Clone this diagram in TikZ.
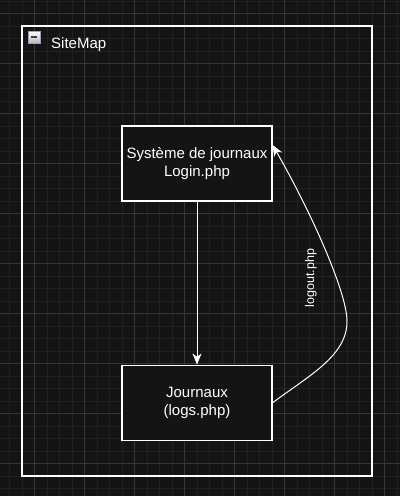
\documentclass[tikz,border=0pt]{standalone}
\usepackage{fontspec}
\setmainfont{Liberation Sans}
\usetikzlibrary{arrows.meta,positioning,calc}
\definecolor{bgdark}{HTML}{141414}
\definecolor{gridminor}{HTML}{212121}
\definecolor{gridmajor}{HTML}{363636}

\begin{document}
\begin{tikzpicture}[
    x=1pt, y=-1pt,
    node distance=163pt and 20pt,
    box/.style={draw=white, line width=1.2pt, fill=bgdark, minimum width=150pt, minimum height=75pt,
      inner sep=0pt, text=white, font=\fontsize{15}{18}\selectfont, align=center},
    lane/.style={draw=white, line width=1.4pt},
    arr/.style={-{Stealth[length=11pt, width=9pt, inset=3pt]}, white, line width=1pt},
    lbl/.style={text=white, font=\fontsize{12.5}{15}\selectfont, inner sep=0pt},
  ]
  \useasboundingbox (0,0) rectangle (400,496);
  % background and grid
  \fill[bgdark] (0,0) rectangle (400,496);
  \foreach \i in {0,...,32} {
    \draw[gridminor, line width=0.6pt] ({9.3+12.5*\i},0) -- ({9.3+12.5*\i},496);
  }
  \foreach \i in {0,...,40} {
    \draw[gridminor, line width=0.6pt] (0,{0.8+12.5*\i}) -- (400,{0.8+12.5*\i});
  }
  \foreach \i in {0,...,7} {
    \draw[gridmajor, line width=0.8pt] ({34.3+50*\i},0) -- ({34.3+50*\i},496);
  }
  \foreach \i in {0,...,9} {
    \draw[gridmajor, line width=0.8pt] (0,{13.3+50*\i}) -- (400,{13.3+50*\i});
  }

  % SiteMap container
  \node[lane, minimum width=350pt, minimum height=450pt, inner sep=0pt] (sitemap) at (197,251) {};
  \draw[white, line width=1.4pt] (sitemap.north west) -- ++(70,0);
  \node[draw=gray!70!blue!60, top color=white, bottom color=gray!55, minimum size=12pt, inner sep=0pt] (toggle) at (34,37) {};
  \draw[black!75, line width=1.4pt] ([xshift=-3pt]toggle.center) -- ([xshift=3pt]toggle.center);
  \node[text=white, font=\fontsize{15}{18}\selectfont, anchor=west, inner sep=0pt] (title) at (51,45) {SiteMap};

  % pages
  \node[box] (login) at (197,163.5) {Système de journaux\\Login.php};
  \node[box, below=of login] (logs) {Journaux\\(logs.php)};

  % links
  \draw[arr] (login) -- (logs);
  \coordinate (logintip) at ([yshift=18.5pt]login.east);
  \draw[arr] (logs.east) .. controls (310,375) and (348,355) .. (347,320)
    .. controls (346,290) and (310,210) .. (logintip);
  \node[lbl, rotate=90] (logout) at (311,278) {logout.php};
\end{tikzpicture}
\end{document}
